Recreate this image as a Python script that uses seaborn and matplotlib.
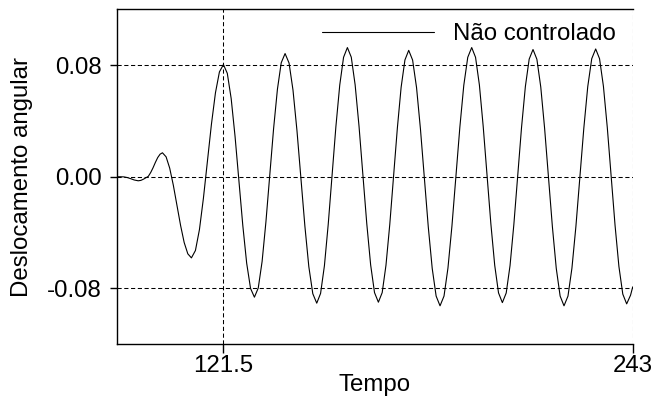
import matplotlib
matplotlib.use("Agg")
import matplotlib.pyplot as plt
import seaborn as sns
import pandas as pd

# Resposta angular do sistema não controlado
tempo = [
    90.0, 91.0, 92.0, 93.0, 94.0, 95.0, 96.2, 97.0, 97.8, 98.5, 99.2, 99.9,
    100.6, 101.3, 102.0, 102.7, 103.4,
    104.48, 105.55, 106.63, 107.7, 108.78, 109.85, 110.93, 112.0,
    113.19, 114.38, 115.56, 116.75, 117.94, 119.13, 120.31, 121.5,
    122.65, 123.8, 124.95, 126.1, 127.25, 128.4, 129.55, 130.7,
    131.84, 132.98, 134.11, 135.25, 136.39, 137.53, 138.66, 139.8,
    140.98, 142.15, 143.33, 144.5, 145.68, 146.85, 148.03, 149.2,
    150.34, 151.48, 152.61, 153.75, 154.89, 156.03, 157.16, 158.3,
    159.45, 160.6, 161.75, 162.9, 164.05, 165.2, 166.35, 167.5,
    168.63, 169.75, 170.88, 172.0, 173.13, 174.25, 175.38, 176.5,
    177.66, 178.83, 179.99, 181.15, 182.31, 183.48, 184.64, 185.8,
    186.98, 188.15, 189.33, 190.5, 191.68, 192.85, 194.03, 195.2,
    196.34, 197.48, 198.61, 199.75, 200.89, 202.03, 203.16, 204.3,
    205.44, 206.58, 207.71, 208.85, 209.99, 211.13, 212.26, 213.4,
    214.55, 215.7, 216.85, 218.0, 219.15, 220.3, 221.45, 222.6,
    223.78, 224.95, 226.13, 227.3, 228.48, 229.65, 230.83, 232.0,
    233.15, 234.3, 235.45, 236.6, 237.75, 238.9, 240.05, 241.2,
    242.35, 243.0,
]
deslocamento = [
    0.0, 0.0, -0.0001, -0.0006, -0.0014, -0.0023, -0.0029, -0.0026, -0.0017,
    -0.0007, 0.0003, 0.0030, 0.0064, 0.0103, 0.0138, 0.0162, 0.0172,
    0.0143, 0.0062, -0.0061, -0.0205, -0.0349, -0.0472, -0.0553, -0.0582,
    -0.0529, -0.0379, -0.0154, 0.0112, 0.0377, 0.0602, 0.0752, 0.0805,
    0.0742, 0.0561, 0.0290, -0.0030, -0.0349, -0.0620, -0.0801, -0.0864,
    -0.0798, -0.0608, -0.0325, 0.0010, 0.0345, 0.0628, 0.0818, 0.0884,
    0.0816, 0.0622, 0.0331, -0.0012, -0.0354, -0.0645, -0.0839, -0.0907,
    -0.0837, -0.0638, -0.0341, 0.0010, 0.0361, 0.0658, 0.0857, 0.0927,
    0.0858, 0.0659, 0.0363, 0.0014, -0.0336, -0.0632, -0.0831, -0.0900,
    -0.0831, -0.0635, -0.0342, 0.0004, 0.0349, 0.0642, 0.0838, 0.0907,
    0.0837, 0.0639, 0.0341, -0.0010, -0.0360, -0.0658, -0.0856, -0.0926,
    -0.0856, -0.0655, -0.0354, 0.0001, 0.0355, 0.0656, 0.0857, 0.0927,
    0.0857, 0.0659, 0.0362, 0.0012, -0.0338, -0.0635, -0.0833, -0.0903,
    -0.0834, -0.0637, -0.0343, 0.0005, 0.0353, 0.0647, 0.0844, 0.0913,
    0.0843, 0.0644, 0.0345, -0.0007, -0.0358, -0.0657, -0.0856, -0.0926,
    -0.0856, -0.0656, -0.0357, -0.0005, 0.0348, 0.0647, 0.0847, 0.0917,
    0.0847, 0.0649, 0.0353, 0.0003, -0.0348, -0.0644, -0.0842, -0.0912,
    -0.0850, -0.0790,
]
serie = "Não controlado"

xticks = [121.5, 243]
xtick_labels = ["121.5", "243"]
yticks = [-0.08, 0.0, 0.08]
ytick_labels = ["-0.08", "0.00", "0.08"]

sns.set_style("ticks")
plt.rcParams["font.family"] = ["Liberation Sans", "DejaVu Sans"]
plt.rcParams["text.color"] = "black"
plt.rcParams["axes.labelcolor"] = "black"
plt.rcParams["xtick.color"] = "black"
plt.rcParams["ytick.color"] = "black"
FS = 17.3

df = pd.DataFrame({"Tempo": tempo, "Deslocamento angular": deslocamento})

fig = plt.figure(figsize=(6.55, 3.99), dpi=100)
ax = fig.add_axes([0.1791, 0.1378, 0.9660 - 0.1791, 0.9762 - 0.1378])

sns.lineplot(data=df, x="Tempo", y="Deslocamento angular", ax=ax,
             color="black", linewidth=0.8, label=serie,
             estimator=None, sort=False)

ax.set_xlim(90, 243)
ax.set_ylim(-0.12, 0.12)
ax.set_xticks(xticks)
ax.set_xticklabels(xtick_labels)
ax.set_yticks(yticks)
ax.set_yticklabels(ytick_labels)

ax.grid(True, color="black", linewidth=0.75, linestyle=(0, (4, 2.5)))
ax.set_axisbelow(True)

for side in ("left", "bottom", "top"):
    ax.spines[side].set_color("black")
    ax.spines[side].set_linewidth(1.0)
ax.spines["right"].set_visible(False)

ax.tick_params(axis="y", direction="out", length=5.3, width=1.0,
               pad=6, labelsize=FS, colors="black")
ax.tick_params(axis="x", direction="out", length=6.3, width=1.0,
               pad=1.5, labelsize=FS, colors="black")

ax.set_xlabel("Tempo", fontsize=FS, labelpad=-2, color="black")
ax.set_ylabel("Deslocamento angular", fontsize=FS, labelpad=10, color="black")

leg = ax.legend(loc="upper right", bbox_to_anchor=(0.986, 0.9874),
                frameon=False, fontsize=FS, handlelength=4.66,
                handletextpad=0.8, borderpad=0.4, borderaxespad=0)
for txt in leg.get_texts():
    txt.set_color("black")

fig.savefig("out.png", dpi=100)
